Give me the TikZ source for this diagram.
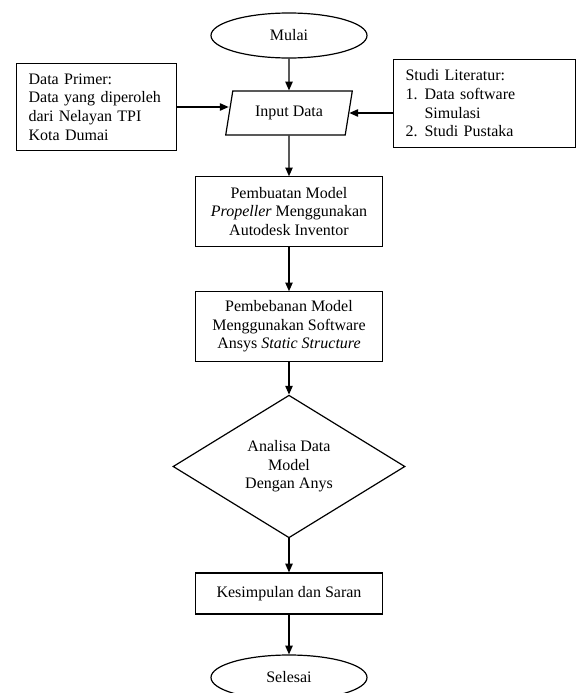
\documentclass[tikz,border=0pt]{standalone}
\usepackage{fontspec}
\setmainfont{Liberation Serif}
\usetikzlibrary{arrows.meta,shapes.geometric}

\begin{document}
\begin{tikzpicture}[x=0.75pt,y=-0.75pt,line width=0.9pt,
        >={Triangle[length=6.5pt,width=5.5pt]},
        font=\fontsize{12}{14}\selectfont,
        term/.style={draw,ellipse,inner sep=0pt,minimum width=117pt,minimum height=33.75pt},
        proc/.style={draw,align=center,inner sep=2pt,minimum width=140pt},
        side/.style={draw,align=left,inner xsep=9pt,inner ysep=0pt,minimum height=65.5pt}]
        \useasboundingbox (0,0) rectangle (576,693);
        \node[term] (mulai) at (289,35.5) {Mulai};
        \node[draw,trapezium,trapezium left angle=78,trapezium right angle=102,
          trapezium stretches,minimum width=95pt,minimum height=33pt] (input) at (289,113) {Input Data};
        \node[side,text width=102pt,anchor=west] (primer) at (16,107)
          {Data Primer:\\Data yang diperoleh\\dari Nelayan TPI\\Kota Dumai};
        \node[side,text width=118.5pt,anchor=west] (literatur) at (393,103.5)
          {Studi Literatur:\\\makebox[14.25pt][l]{1.}Data software\\\hspace*{14.25pt}Simulasi\\\makebox[14.25pt][l]{2.}Studi Pustaka};
        \node[proc,minimum height=52pt] (model) at (289,211.5)
          {Pembuatan Model\\\textit{Propeller} Menggunakan\\Autodesk Inventor};
        \node[proc,minimum height=52pt] (beban) at (289,326.5)
          {Pembebanan Model\\Menggunakan Software\\Ansys \textit{Static Structure}};
        \node[draw,diamond,align=center,inner sep=0pt,minimum width=174pt,minimum height=107pt] (analisa) at (289,466.5)
          {Analisa Data\\Model\\Dengan Anys};
        \node[proc,minimum height=30.75pt] (saran) at (289,593.5) {Kesimpulan dan Saran};
        \node[term] (selesai) at (289,677.5) {Selesai};
        \draw[->] (mulai) -- (input);
        \draw[->] (primer.east) -- (primer.east -| input.west);
        \draw[->] (literatur.west |- input.east) -- (input.east);
        \draw[->] (input) -- (model);
        \draw[->] (model) -- (beban);
        \draw[->] (beban) -- (analisa);
        \draw[->] (analisa) -- (saran);
        \draw[->] (saran) -- (selesai);
      \end{tikzpicture}
\end{document}
